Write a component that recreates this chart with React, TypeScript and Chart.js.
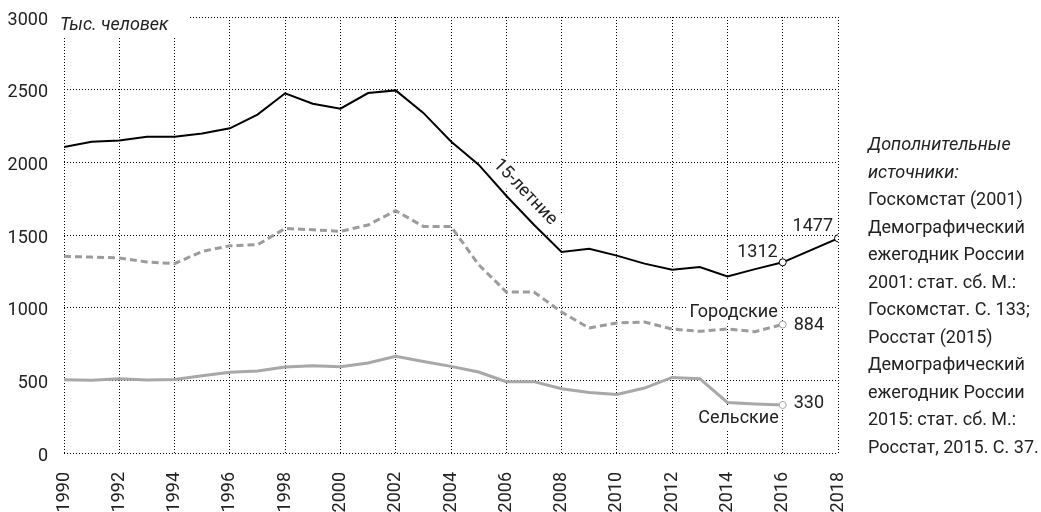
import React, { useEffect, useRef } from "react";
import { Chart, registerables } from "chart.js";

Chart.register(...registerables);

// ---- Data ----
const YEARS_15 = [1990, 1991, 1992, 1993, 1994, 1995, 1996, 1997, 1998, 1999, 2000, 2001, 2002, 2003, 2004, 2005, 2006, 2007, 2008, 2009, 2010, 2011, 2012, 2013, 2014, 2015, 2016, 2018];
const TOTAL_15 = [2106, 2142, 2151, 2176, 2176, 2199, 2234, 2328, 2475, 2403, 2369, 2477, 2495, 2340, 2144, 1984, 1770, 1571, 1383, 1406, 1358, 1303, 1261, 1280, 1215, 1265, 1312, 1477];

const YEARS_SUB = [1990, 1991, 1992, 1993, 1994, 1995, 1996, 1997, 1998, 1999, 2000, 2001, 2002, 2003, 2004, 2005, 2006, 2007, 2008, 2009, 2010, 2011, 2012, 2013, 2014, 2015, 2016];
const URBAN = [1353, 1348, 1342, 1314, 1303, 1387, 1426, 1433, 1545, 1536, 1525, 1569, 1667, 1559, 1559, 1296, 1108, 1108, 970, 860, 895, 901, 853, 837, 853, 835, 884];
const RURAL = [504, 500, 511, 503, 506, 532, 555, 564, 592, 601, 594, 619, 665, 630, 596, 557, 491, 491, 442, 417, 403, 447, 520, 511, 348, 337, 330];

const MARKED_YEARS = [2016, 2018];

const X_MIN = 1990;
const X_MAX = 2018;
const X_STEP = 2;
const Y_MIN = 0;
const Y_MAX = 3000;
const Y_STEP = 500;

const UNIT_LABEL = "Тыс. человек";
const LABEL_15 = "15-летние";
const LABEL_URBAN = "Городские";
const LABEL_RURAL = "Сельские";

const NOTES = [
  "Дополнительные",
  "источники:",
  "Госкомстат (2001)",
  "Демографический",
  "ежегодник России",
  "2001: стат. сб. М.:",
  "Госкомстат. С. 133;",
  "Росстат (2015)",
  "Демографический",
  "ежегодник России",
  "2015: стат. сб. М.:",
  "Росстат, 2015. С. 37.",
];
const NOTES_ITALIC_COUNT = 2;

const FONT = "Roboto";
const TEXT_COLOR = "#222";

const toPoints = (xs: number[], ys: number[]) => xs.map((x, i) => ({ x, y: ys[i] }));

function pointOf(chart: any, dsIndex: number, year: number) {
  const meta = chart.getDatasetMeta(dsIndex);
  const ds = chart.data.datasets[dsIndex];
  const idx = ds.data.findIndex((p: any) => p.x === year);
  const el = meta.data[idx];
  return { x: el.x, y: el.y };
}

function label15Geometry(chart: any) {
  const a = pointOf(chart, 0, 2006);
  const b = pointOf(chart, 0, 2007);
  const t = 0.26;
  const px = a.x + (b.x - a.x) * t;
  const py = a.y + (b.y - a.y) * t;
  const ang = Math.atan2(b.y - a.y, b.x - a.x);
  const d = 16;
  const cx = px + Math.sin(ang) * d;
  const cy = py - Math.cos(ang) * d;
  return { cx, cy, ang };
}

const annotationPlugin = {
  id: "annotations",
  beforeDatasetsDraw(chart: any) {
    const { ctx, chartArea } = chart;
    ctx.save();
    ctx.fillStyle = "#fff";
    // unit label box
    ctx.font = `italic 18px ${FONT}`;
    const uw = ctx.measureText(UNIT_LABEL).width;
    ctx.fillRect(chartArea.left - 6, 0, uw + 22, chartArea.top + 20);

    // 15-летние box
    ctx.font = `18px ${FONT}`;
    const g = label15Geometry(chart);
    const w15 = ctx.measureText(LABEL_15).width;
    ctx.save();
    ctx.translate(g.cx, g.cy);
    ctx.rotate(g.ang);
    ctx.fillRect(-w15 / 2 - 3, -11, w15 + 6, 22);
    ctx.restore();

    // Городские box
    const u = pointOf(chart, 1, 2016);
    const wu = ctx.measureText(LABEL_URBAN).width;
    ctx.fillRect(u.x - 5 - wu - 3, u.y - 12 - 11, wu + 6, 22);

    // Сельские box
    const r = pointOf(chart, 2, 2016);
    const wr = ctx.measureText(LABEL_RURAL).width;
    ctx.fillRect(r.x - 4 - wr - 3, r.y + 13 - 11, wr + 6, 22);
    ctx.restore();
  },
  afterDatasetsDraw(chart: any) {
    const { ctx, chartArea } = chart;
    ctx.save();
    ctx.fillStyle = TEXT_COLOR;

    // unit label
    ctx.font = `italic 18px ${FONT}`;
    ctx.textAlign = "left";
    ctx.textBaseline = "alphabetic";
    ctx.fillText(UNIT_LABEL, chartArea.left - 4, chartArea.top + 13);

    ctx.font = `18px ${FONT}`;
    // 15-летние
    const g = label15Geometry(chart);
    ctx.save();
    ctx.translate(g.cx, g.cy);
    ctx.rotate(g.ang);
    ctx.textAlign = "center";
    ctx.textBaseline = "middle";
    ctx.fillText(LABEL_15, 0, 0);
    ctx.restore();

    // value labels
    const p16 = pointOf(chart, 0, 2016);
    const p18 = pointOf(chart, 0, 2018);
    const u = pointOf(chart, 1, 2016);
    const r = pointOf(chart, 2, 2016);
    const ds0 = chart.data.datasets[0].data;
    const v16 = ds0.find((p: any) => p.x === 2016).y;
    const v18 = ds0.find((p: any) => p.x === 2018).y;
    const vu = chart.data.datasets[1].data.find((p: any) => p.x === 2016).y;
    const vr = chart.data.datasets[2].data.find((p: any) => p.x === 2016).y;

    ctx.textAlign = "right";
    ctx.textBaseline = "alphabetic";
    ctx.fillText(String(v16), p16.x - 5, p16.y - 5);
    ctx.fillText(String(v18), p18.x - 5, p18.y - 7);

    ctx.textBaseline = "middle";
    ctx.textAlign = "left";
    ctx.fillText(String(vu), u.x + 11, u.y + 1);
    ctx.fillText(String(vr), r.x + 11, r.y - 2);

    ctx.textAlign = "right";
    ctx.fillText(LABEL_URBAN, u.x - 5, u.y - 12);
    ctx.fillText(LABEL_RURAL, r.x - 4, r.y + 13);
    ctx.restore();
  },
  afterDraw(chart: any) {
    const { ctx, chartArea } = chart;
    ctx.save();
    ctx.fillStyle = TEXT_COLOR;
    ctx.textAlign = "left";
    ctx.textBaseline = "alphabetic";
    const x0 = chartArea.right + 30;
    NOTES.forEach((line, i) => {
      ctx.font = i < NOTES_ITALIC_COUNT ? `italic 18px ${FONT}` : `18px ${FONT}`;
      ctx.fillText(line, x0, 150 + i * 27.5);
    });
    ctx.restore();
  },
};

const markerRadius = (c: any) => (c.raw && MARKED_YEARS.includes(c.raw.x) ? 3.5 : 0);

export default function App() {
  const ref = useRef<HTMLCanvasElement | null>(null);

  useEffect(() => {
    if (!ref.current) return;
    const chart = new Chart(ref.current, {
      type: "line",
      data: {
        datasets: [
          {
            label: LABEL_15,
            data: toPoints(YEARS_15, TOTAL_15),
            borderColor: "#000",
            borderWidth: 2,
            pointRadius: markerRadius,
            pointBackgroundColor: "#fff",
            pointBorderColor: "#000",
            pointBorderWidth: 1,
            tension: 0,
          },
          {
            label: LABEL_URBAN,
            data: toPoints(YEARS_SUB, URBAN),
            borderColor: "#9c9c9c",
            borderWidth: 3,
            borderDash: [7, 4],
            pointRadius: markerRadius,
            pointBackgroundColor: "#fff",
            pointBorderColor: "#9c9c9c",
            pointBorderWidth: 1,
            tension: 0,
          },
          {
            label: LABEL_RURAL,
            data: toPoints(YEARS_SUB, RURAL),
            borderColor: "#a8a8a8",
            borderWidth: 3,
            pointRadius: markerRadius,
            pointBackgroundColor: "#fff",
            pointBorderColor: "#a8a8a8",
            pointBorderWidth: 1,
            tension: 0,
          },
        ],
      },
      options: {
        responsive: false,
        animation: false,
        events: [],
        layout: { padding: { top: 17, right: 203, left: 0, bottom: 0 } },
        plugins: {
          legend: { display: false },
          tooltip: { enabled: false },
        },
        scales: {
          x: {
            type: "linear",
            min: X_MIN,
            max: X_MAX,
            afterFit: (s: any) => {
              s.height = 59;
              s.paddingLeft = 0;
              s.paddingRight = 0;
            },
            ticks: {
              stepSize: X_STEP,
              maxRotation: 90,
              minRotation: 90,
              padding: 19,
              color: TEXT_COLOR,
              font: { family: FONT, size: 18 },
              callback: (v: any) => String(v),
            },
            grid: { color: "#000", lineWidth: 1, drawTicks: false },
            border: { display: false, dash: [1, 2] },
          },
          y: {
            min: Y_MIN,
            max: Y_MAX,
            afterFit: (s: any) => {
              s.width = 64;
              s.paddingTop = 0;
              s.paddingBottom = 0;
            },
            ticks: {
              stepSize: Y_STEP,
              padding: 16,
              labelOffset: 3,
              color: TEXT_COLOR,
              font: { family: FONT, size: 18 },
              callback: (v: any) => String(v),
            },
            grid: { color: "#000", lineWidth: 1, drawTicks: false },
            border: { display: false, dash: [1, 2] },
          },
        },
      },
      plugins: [annotationPlugin],
    });
    return () => chart.destroy();
  }, []);

  return (
    <div style={{ position: "absolute", left: 0, top: 0, width: 1041, height: 512, background: "#fff" }}>
      <canvas ref={ref} width={1041} height={512} style={{ display: "block" }} />
    </div>
  );
}
